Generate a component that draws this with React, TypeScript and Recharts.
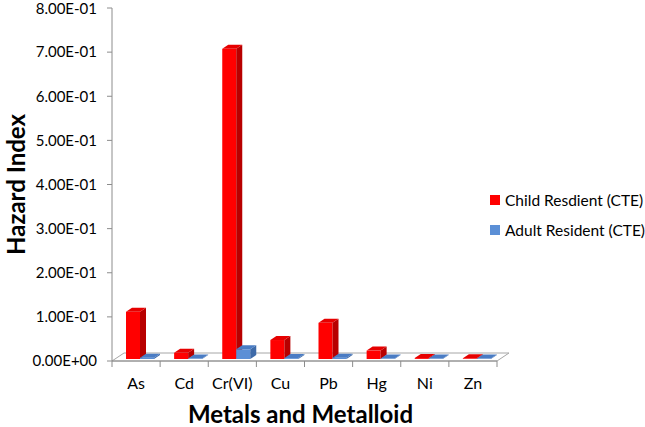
import React from "react";
import { BarChart, Bar, XAxis, YAxis, ReferenceArea } from "recharts";

const categories = ["As", "Cd", "Cr(VI)", "Cu", "Pb", "Hg", "Ni", "Zn"];
const childCTE = [0.107, 0.014, 0.703, 0.043, 0.082, 0.019, 0.002, 0.0015];
const adultCTE = [0.003, 0.001, 0.022, 0.002, 0.003, 0.001, 0.001, 0.001];
const yTicks = [0, 0.1, 0.2, 0.3, 0.4, 0.5, 0.6, 0.7, 0.8];
const seriesNames = ["Child Resdient (CTE)", "Adult Resident (CTE)"];
const seriesColors = ["#ff0000", "#5b8fd6"];

const data = categories.map((c, i) => ({ name: c, child: childCTE[i], adult: adultCTE[i] }));

const FONT = "Lato, 'Open Sans', sans-serif";
const W = 645;
const H = 427;
const MARGIN = { top: 8, right: 148, bottom: 0, left: 0 };
const Y_W = 112;
const X_H = 66;
const PLOT_W = W - MARGIN.left - MARGIN.right - Y_W;
const STEP = PLOT_W / categories.length;
const AXIS = "#8c8c8c";

const fmt = (v: number) => {
  if (v === 0) return "0.00E+00";
  const e = Math.floor(Math.log10(v) + 1e-9);
  const m = v / Math.pow(10, e);
  const sign = e < 0 ? "-" : "+";
  const ae = Math.abs(e);
  return `${m.toFixed(2)}E${sign}${ae < 10 ? "0" + ae : ae}`;
};

const makeBar = (front: string, side: string, top: string) => (props: any) => {
  const { x, width, height } = props;
  const y = props.y - 2;
  const dx = 6;
  const dy = 4;
  const sx = x + 4;
  const h = Math.max(height, 0);
  return (
    <g>
      <rect x={sx} y={y} width={width} height={h} fill={front} />
      <polygon
        points={`${sx + width},${y} ${sx + width + dx},${y - dy} ${sx + width + dx},${y + h - dy} ${sx + width},${y + h}`}
        fill={side}
      />
      <polygon
        points={`${sx},${y} ${sx + dx},${y - dy} ${sx + width + dx},${y - dy} ${sx + width},${y}`}
        fill={top}
      />
    </g>
  );
};

const ChildBar = makeBar("#ff0000", "#b80000", "#e60000");
const AdultBar = makeBar("#5b8fd6", "#3e6aa8", "#4a7cc4");

const Floor = (props: any) => {
  const { x, y, width, height } = props;
  const yb = y + height;
  const dx = 12;
  const dy = 8;
  return (
    <polygon
      points={`${x},${yb} ${x + dx},${yb - dy} ${x + width + dx},${yb - dy} ${x + width},${yb}`}
      fill="#ffffff"
      stroke="#a6a6a6"
      strokeWidth={1}
    />
  );
};

const XTick = (props: any) => {
  const { x, y, payload, index } = props;
  const left = x - STEP / 2;
  return (
    <g>
      <line x1={left} y1={y} x2={left} y2={y + 6} stroke={AXIS} />
      {index === categories.length - 1 && (
        <line x1={x + STEP / 2} y1={y} x2={x + STEP / 2} y2={y + 6} stroke={AXIS} />
      )}
      <text x={x} y={y + 28} textAnchor="middle" fontSize={16} fill="#000" fontFamily={FONT}>
        {payload.value}
      </text>
    </g>
  );
};

export default function App() {
  return (
    <div style={{ position: "absolute", left: 0, top: 0, width: W, height: H, background: "#fff" }}>
      <BarChart width={W} height={H} data={data} margin={MARGIN} barGap={0} barSize={14}>
        <ReferenceArea y1={0} y2={0.0001} shape={<Floor />} ifOverflow="visible" />
        <XAxis
          dataKey="name"
          height={X_H}
          tickLine={false}
          tickSize={0}
          tickMargin={0}
          axisLine={{ stroke: AXIS }}
          tick={<XTick />}
          interval={0}
          label={{
            content: (p: any) => {
              const vb = p.viewBox;
              return (
                <text
                  x={vb.x + vb.width / 2 - 4}
                  y={vb.y + 62}
                  textAnchor="middle"
                  fontSize={24}
                  fontWeight="bold"
                  fontFamily={FONT}
                  fill="#000"
                >
                  Metals and Metalloid
                </text>
              );
            },
          }}
        />
        <YAxis
          width={Y_W}
          domain={[0, 0.8]}
          ticks={yTicks}
          tickFormatter={fmt}
          tickSize={5}
          tickMargin={10}
          axisLine={{ stroke: AXIS }}
          tickLine={{ stroke: AXIS }}
          tick={{ fontSize: 15, fill: "#000", fontFamily: FONT }}
          label={{
            content: (p: any) => {
              const vb = p.viewBox;
              const cx = vb.x + 15;
              const cy = vb.y + vb.height / 2;
              return (
                <text
                  x={cx}
                  y={cy}
                  transform={`rotate(-90 ${cx} ${cy})`}
                  textAnchor="middle"
                  dominantBaseline="central"
                  fontSize={24}
                  fontWeight="bold"
                  fontFamily={FONT}
                  fill="#000"
                >
                  Hazard Index
                </text>
              );
            },
          }}
        />
        <Bar dataKey="child" name={seriesNames[0]} fill={seriesColors[0]} shape={<ChildBar />} isAnimationActive={false} />
        <Bar dataKey="adult" name={seriesNames[1]} fill={seriesColors[1]} shape={<AdultBar />} isAnimationActive={false} />
      </BarChart>
      <div style={{ position: "absolute", left: 490, top: 185, fontFamily: FONT, fontSize: 15.5, color: "#000" }}>
        {seriesNames.map((n, i) => (
          <div key={n} style={{ display: "flex", alignItems: "center", height: 30, whiteSpace: "nowrap" }}>
            <span style={{ width: 10, height: 10, background: seriesColors[i], marginRight: 5, display: "inline-block" }} />
            {n}
          </div>
        ))}
      </div>
    </div>
  );
}
